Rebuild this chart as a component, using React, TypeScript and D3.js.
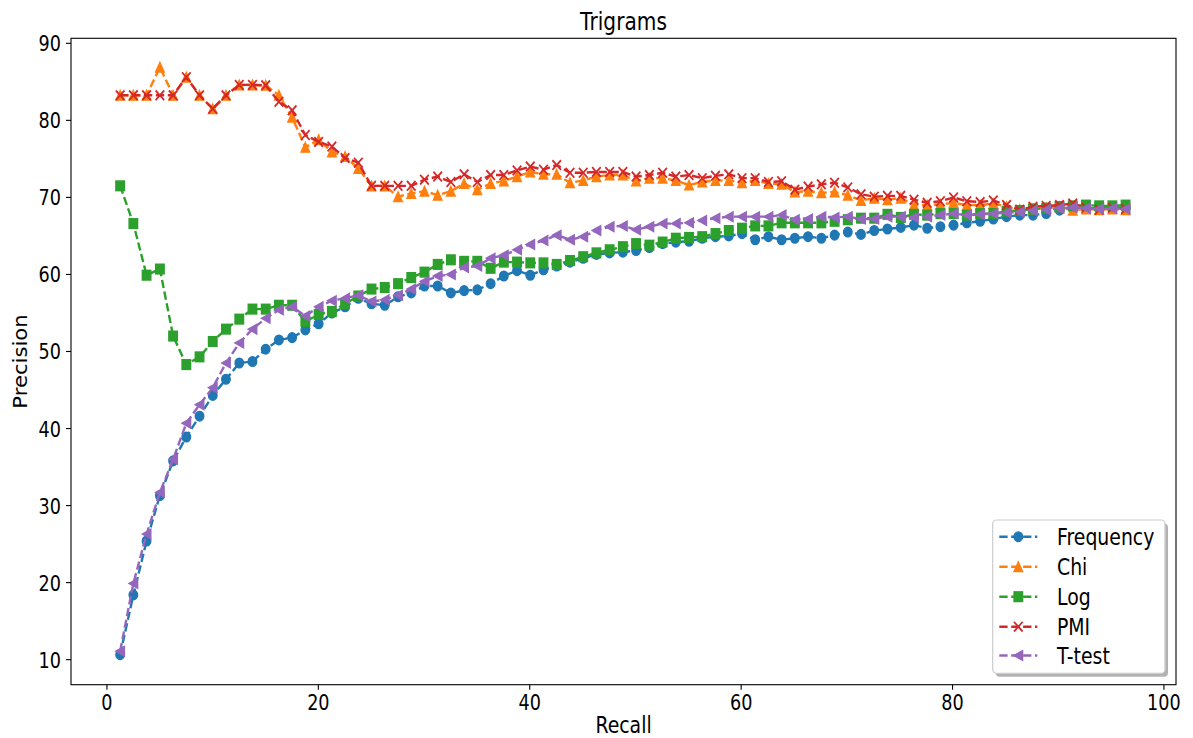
import React from "react";
import * as d3 from "d3";

const recall = [
  1.25, 2.5, 3.75, 5.01, 6.26, 7.51, 8.76, 10.01, 11.26, 12.52, 13.77, 15.02, 16.27, 17.52, 18.77, 20.03,
  21.28, 22.53, 23.78, 25.03, 26.28, 27.54, 28.79, 30.04, 31.29, 32.54, 33.79, 35.04, 36.3, 37.55, 38.8,
  40.05, 41.3, 42.55, 43.81, 45.06, 46.31, 47.56, 48.81, 50.06, 51.32, 52.57, 53.82, 55.07, 56.32, 57.57,
  58.83, 60.08, 61.33, 62.58, 63.83, 65.08, 66.33, 67.59, 68.84, 70.09, 71.34, 72.59, 73.84, 75.1, 76.35,
  77.6, 78.85, 80.1, 81.35, 82.61, 83.86, 85.11, 86.36, 87.61, 88.86, 90.12, 91.37, 92.62, 93.87, 95.12, 96.37,
];

const frequency = [
  10.65, 18.4, 25.4, 31.3, 35.8, 38.9, 41.6, 44.3, 46.4, 48.5, 48.7, 50.3, 51.5, 51.8, 52.8, 53.6, 55.0, 55.8, 56.9,
  56.2, 56.0, 57.1, 57.6, 58.5, 58.5, 57.6, 57.9, 58.0, 58.8, 59.8, 60.5, 59.9, 60.6, 61.1, 61.6, 62.1, 62.6, 62.8, 62.9, 63.1,
  63.5, 64.0, 64.2, 64.3, 64.7, 64.9, 65.0, 65.3, 64.5, 64.9, 64.5, 64.7, 64.9, 64.7, 65.1, 65.5, 65.2, 65.7, 65.9, 66.1, 66.4,
  66.0, 66.2, 66.4, 66.7, 66.9, 67.2, 67.5, 67.7, 67.7, 67.9, 68.35, 68.6, 68.6, 68.6, 68.65, 68.65,
];

const chi = [
  83.25, 83.25, 83.25, 86.9, 83.25, 85.6, 83.25, 81.5, 83.25, 84.6, 84.6, 84.55, 83.25, 80.4, 76.5, 77.5, 75.9, 75.3, 73.75,
  71.5, 71.5, 70.1, 70.5, 70.8, 70.3, 70.8, 71.8, 71.0, 71.8, 72.15, 72.7, 73.3, 73.0, 73.0, 71.9, 72.2, 72.7, 72.9, 72.9, 72.15,
  72.5, 72.5, 72.2, 71.6, 72.0, 72.2, 72.2, 71.9, 72.2, 71.8, 71.7, 70.7, 70.8, 70.6, 70.7, 70.3, 69.6, 69.9, 69.7, 69.9, 69.0,
  69.0, 69.1, 69.3, 69.0, 69.0, 69.2, 68.8, 68.4, 68.5, 68.65, 68.8, 68.35, 68.5, 68.4, 68.5, 68.4,
];

const logLik = [
  71.5, 66.6, 59.9, 60.7, 52.0, 48.3, 49.3, 51.3, 52.9, 54.2, 55.5, 55.5, 56.0, 56.0, 53.9, 54.8, 55.2, 56.2, 57.2,
  58.1, 58.3, 58.8, 59.6, 60.3, 61.3, 61.9, 61.7, 61.7, 60.8, 61.6, 61.6, 61.5, 61.5, 61.3, 61.8, 62.3, 62.8, 63.2, 63.6, 64.0,
  63.8, 64.2, 64.7, 64.8, 64.9, 65.3, 65.7, 66.0, 66.3, 66.3, 66.7, 66.7, 66.7, 66.7, 66.9, 67.1, 67.3, 67.3, 67.8, 67.4, 67.8,
  67.7, 67.9, 67.9, 67.7, 67.9, 67.9, 68.2, 68.3, 68.5, 68.6, 68.8, 68.9, 69.0, 68.9, 68.9, 69.0,
];

const pmi = [
  83.25, 83.25, 83.25, 83.25, 83.25, 85.6, 83.25, 81.5, 83.25, 84.6, 84.6, 84.55, 82.4, 81.3, 78.1, 77.2, 76.6, 75.1, 74.5,
  71.5, 71.5, 71.5, 71.5, 72.3, 72.7, 72.0, 73.0, 72.0, 72.9, 72.9, 73.5, 74.0, 73.6, 74.2, 73.2, 73.2, 73.3, 73.3, 73.3, 72.7,
  72.9, 73.2, 72.7, 72.9, 72.5, 72.8, 73.0, 72.5, 72.5, 72.0, 72.1, 71.0, 71.4, 71.7, 71.9, 71.3, 70.4, 70.1, 70.2, 70.2, 69.7,
  69.3, 69.5, 70.0, 69.5, 69.4, 69.6, 69.0, 68.4, 68.8, 68.9, 69.0, 69.2, 68.65, 68.4, 68.65, 68.5,
];

const ttest = [
  11.1, 19.9, 26.3, 31.7, 36.0, 40.7, 43.1, 45.3, 48.5, 51.1, 52.9, 54.3, 55.4, 55.8, 54.6, 55.8, 56.6, 56.9, 57.3,
  56.5, 56.7, 57.3, 58.1, 59.1, 59.8, 60.0, 60.9, 61.1, 62.1, 62.5, 63.2, 63.9, 64.4, 65.1, 64.5, 64.9, 65.7, 66.2, 66.3, 65.8,
  66.2, 66.6, 66.6, 66.7, 67.0, 67.3, 67.5, 67.5, 67.5, 67.5, 67.7, 67.1, 67.2, 67.5, 67.4, 67.5, 67.2, 67.2, 67.5, 67.5, 67.4,
  67.5, 67.7, 67.9, 67.7, 67.8, 67.9, 68.0, 68.1, 68.3, 68.4, 68.6, 68.7, 68.6, 68.5, 68.6, 68.5,
];

const seriesNames = ["Frequency", "Chi", "Log", "PMI", "T-test"];
const seriesColors = ["#1f77b4", "#ff7f0e", "#2ca02c", "#d62728", "#9467bd"];
const seriesMarkers = ["circle", "triangleUp", "square", "cross", "triangleLeft"];
const seriesData = [frequency, chi, logLik, pmi, ttest];

const xTicks = [0, 20, 40, 60, 80, 100];
const yTicks = [10, 20, 30, 40, 50, 60, 70, 80, 90];

const W = 1193;
const H = 738;
const FONT = "DejaVu Sans";
const SX = 0.82;

function Marker({ type, color, cx, cy }: { type: string; color: string; cx: number; cy: number }) {
  const h = 4.3;
  const t = `translate(${cx},${cy}) scale(1,1.12)`;
  if (type === "circle") return <circle transform={t} r={h} fill={color} stroke={color} strokeWidth={1.3} />;
  if (type === "square")
    return <rect transform={t} x={-h} y={-h} width={2 * h} height={2 * h} fill={color} stroke={color} strokeWidth={1.3} />;
  if (type === "triangleUp")
    return <path transform={t} d={`M0,${-h}L${h},${h}L${-h},${h}Z`} fill={color} stroke={color} strokeWidth={1.3} strokeLinejoin="miter" />;
  if (type === "triangleLeft")
    return <path transform={t} d={`M${-h},0L${h},${-h}L${h},${h}Z`} fill={color} stroke={color} strokeWidth={1.3} strokeLinejoin="miter" />;
  return <path transform={t} d={`M${-h},${-h}L${h},${h}M${-h},${h}L${h},${-h}`} fill="none" stroke={color} strokeWidth={1.7} />;
}

export default function App() {
  const x = d3.scaleLinear().domain([-3.4, 101.14]).range([71, 1176]);
  const y = d3.scaleLinear().domain([6.75, 90.65]).range([684.7, 38.3]);
  const [x0, x1] = x.range();
  const [y0, y1] = y.range();

  const line = d3
    .line<number>()
    .x((_, i) => x(recall[i]))
    .y((d) => y(d));

  const legendX = 992.7;
  const legendY = 520;
  const legendW = 172.3;
  const legendH = 153.3;
  const rowY = [536.7, 566.7, 596.7, 626.7, 655.5];

  return (
    <svg
      width={W}
      height={H}
      style={{ position: "absolute", left: 0, top: 0, background: "#fff" }}
      fontFamily={FONT}
    >
      <rect x={0} y={0} width={W} height={H} fill="#fff" />
      {seriesData.map((data, si) => (
        <g key={seriesNames[si]}>
          <path
            d={line(data) || ""}
            fill="none"
            stroke={seriesColors[si]}
            strokeWidth={2.4}
            strokeDasharray="8.3,3.6"
          />
          {data.map((v, i) => (
            <Marker key={i} type={seriesMarkers[si]} color={seriesColors[si]} cx={x(recall[i])} cy={y(v)} />
          ))}
        </g>
      ))}

      {/* spines */}
      <rect x={x0} y={y1} width={x1 - x0} height={y0 - y1} fill="none" stroke="#000" strokeWidth={1.1} />

      {/* x ticks */}
      {xTicks.map((t) => (
        <g key={"xt" + t}>
          <line x1={x(t)} x2={x(t)} y1={y0} y2={y0 + 5} stroke="#000" strokeWidth={1.1} />
          <text
            transform={`translate(${x(t)},${709.5}) scale(${SX},1)`}
            textAnchor="middle"
            fontSize={21.5}
            fill="#000"
          >
            {t}
          </text>
        </g>
      ))}

      {/* y ticks */}
      {yTicks.map((t) => (
        <g key={"yt" + t}>
          <line x1={x0 - 5} x2={x0} y1={y(t)} y2={y(t)} stroke="#000" strokeWidth={1.1} />
          <text
            transform={`translate(${x0 - 10},${y(t) + 8}) scale(${SX},1)`}
            textAnchor="end"
            fontSize={21.5}
            fill="#000"
          >
            {t}
          </text>
        </g>
      ))}

      {/* title */}
      <text
        transform={`translate(${(x0 + x1) / 2},30) scale(0.84,1)`}
        textAnchor="middle"
        fontSize={24}
        fill="#000"
      >
        Trigrams
      </text>

      {/* axis labels */}
      <text
        transform={`translate(${(x0 + x1) / 2},733) scale(${SX},1)`}
        textAnchor="middle"
        fontSize={23}
        fill="#000"
      >
        Recall
      </text>
      <text
        transform={`translate(27,${(y0 + y1) / 2}) rotate(-90) scale(0.92,${SX})`}
        textAnchor="middle"
        fontSize={23}
        fill="#000"
      >
        Precision
      </text>

      {/* legend */}
      <rect x={legendX + 3} y={legendY + 3.5} width={legendW} height={legendH} rx={4} fill="#000" opacity={0.3} />
      <rect
        x={legendX}
        y={legendY}
        width={legendW}
        height={legendH}
        rx={4}
        fill="#fff"
        stroke="#cccccc"
        strokeWidth={1.2}
      />
      {seriesNames.map((name, si) => (
        <g key={"lg" + name}>
          <line
            x1={999.3}
            x2={1037.3}
            y1={rowY[si]}
            y2={rowY[si]}
            stroke={seriesColors[si]}
            strokeWidth={2.4}
            strokeDasharray="8.3,3.6"
          />
          <Marker type={seriesMarkers[si]} color={seriesColors[si]} cx={1018.3} cy={rowY[si]} />
          <text
            transform={`translate(1057,${rowY[si] + 8.3}) scale(${SX},1)`}
            fontSize={23}
            fill="#000"
          >
            {name}
          </text>
        </g>
      ))}
    </svg>
  );
}
